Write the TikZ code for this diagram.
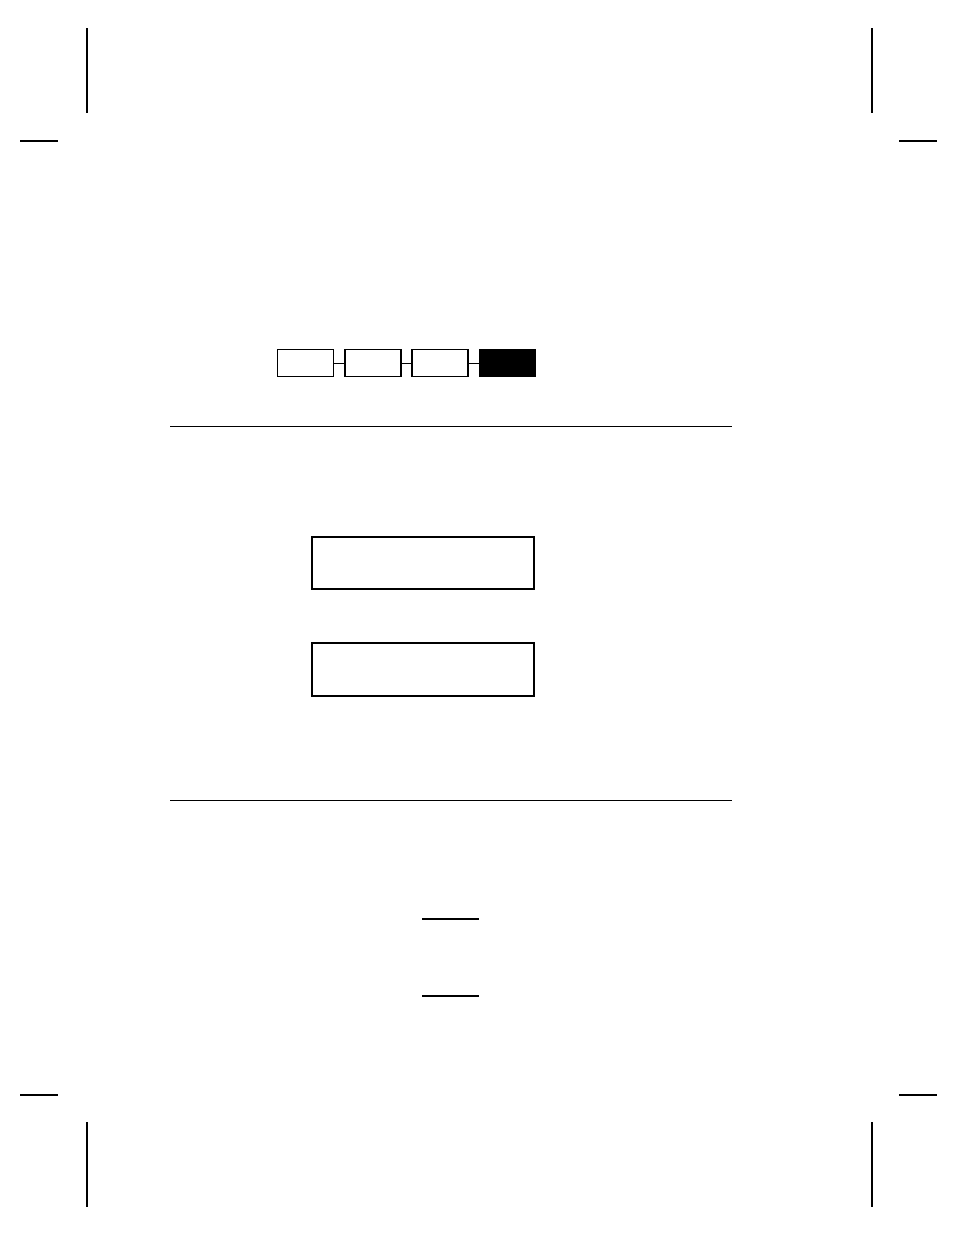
\documentclass[tikz,border=0pt]{standalone}
\usetikzlibrary{arrows,shapes,positioning,calc}
\begin{document}
\begin{tikzpicture}[x=1pt,y=-1pt,semithick,
node distance=11.3pt]
\tikzstyle{every node}=[outer sep=0pt, inner sep=0pt]
\tikzstyle{stepbox}=[rectangle, draw, line width=1.4pt, minimum width=56pt, minimum height=27pt]
\tikzstyle{panel}=[rectangle, draw, line width=2pt, minimum width=222pt, minimum height=52.6pt]
\tikzstyle{crop}=[line width=2pt]
\tikzstyle{rule}=[line width=1.3pt]

\useasboundingbox (0,0) rectangle (954,1235);

%crop marks
\draw[crop] (86.7,28) -- (86.7,112.7);
\draw[crop] (20,140.7) -- (57.7,140.7);
\draw[crop] (872,28) -- (872,112.7);
\draw[crop] (899,140.7) -- (937,140.7);
\draw[crop] (86.7,1122) -- (86.7,1206.7);
\draw[crop] (20,1095) -- (57.7,1095);
\draw[crop] (872,1122) -- (872,1206.7);
\draw[crop] (899,1095) -- (937,1095);

%steps
\node[stepbox] (S1) at (305.5,363.2) {};
\node[stepbox] (S2) [right=of S1] {};
\node[stepbox] (S3) [right=of S2] {};
\node[stepbox, fill=black] (S4) [right=of S3] {};

\draw[rule] (S1) -- (S2);
\draw[rule] (S2) -- (S3);
\draw[rule] (S3) -- (S4);

\draw[rule] (170,426.7) -- (731.7,426.7);

%panels
\node[panel] (P1) at (422.5,562.9) {};
\node[panel] (P2) [below=53.8pt of P1] {};

\draw[rule] (170,800.3) -- (731.7,800.3);

%blanks
\draw[line width=2pt] (422,919.3) -- (479,919.3);
\draw[line width=2pt] (422,995.7) -- (479,995.7);

\end{tikzpicture}
\end{document}
